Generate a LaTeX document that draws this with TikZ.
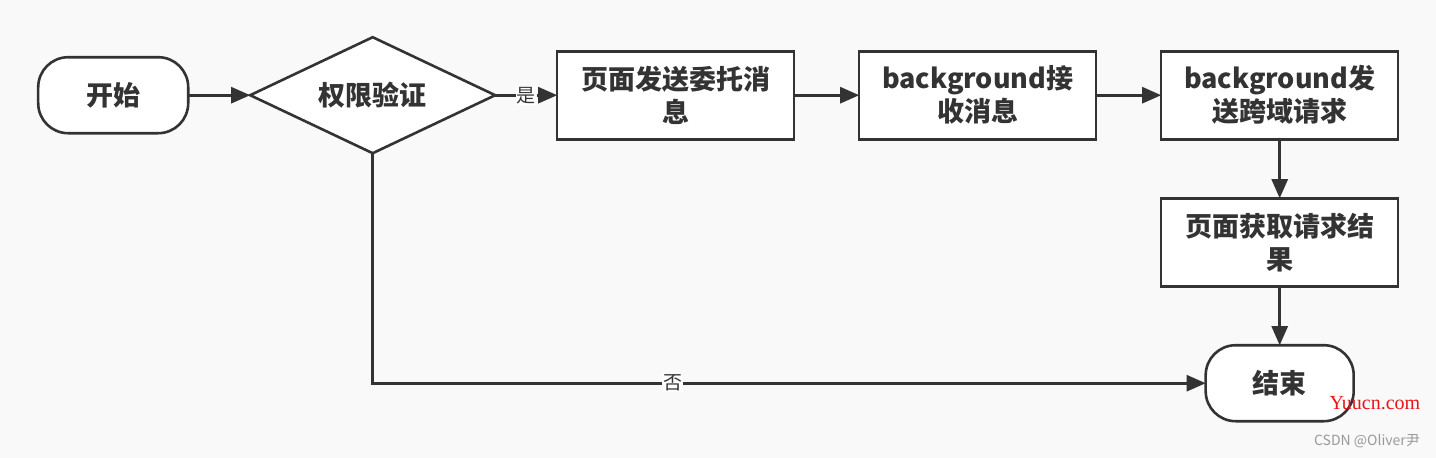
\documentclass[tikz,border=0pt]{standalone}
\usepackage{fontspec}
\setmainfont{Noto Sans CJK SC}
\newfontfamily\wmserif{Liberation Serif}
\usetikzlibrary{arrows.meta,shapes.geometric}
\definecolor{ink}{HTML}{333333}
\definecolor{paper}{HTML}{F9F9F9}

\begin{document}
\begin{tikzpicture}[x=1pt,y=1pt]
\tikzstyle{terminal} = [rectangle, draw=ink, line width=2.6pt, fill=white,
rounded corners=30pt, minimum width=150pt, minimum height=76pt, anchor=center,
inner sep=2pt, outer sep=0pt, text=ink, font=\fontsize{27}{33}\selectfont\bfseries]
\tikzstyle{decision} = [diamond, aspect=2.1, draw=ink, line width=2.6pt, fill=white,
minimum width=245pt, minimum height=116pt, inner sep=2pt, outer sep=0pt, anchor=center,
text=ink, font=\fontsize{27}{33}\selectfont\bfseries]
\tikzstyle{block} = [rectangle, draw=ink, line width=2.6pt, fill=white,
minimum width=237pt, minimum height=88pt, align=center, inner sep=2pt, anchor=center,
outer sep=0pt, text=ink, font=\fontsize{27}{33}\selectfont\bfseries]
\tikzstyle{tag} = [fill=white, inner sep=1pt, text=ink, font=\fontsize{19}{19}\selectfont]
\tikzstyle{link} = [draw=ink, line width=2.6pt, -{Triangle[length=19pt,width=16pt]}]

\path [fill=paper, use as bounding box] (0,0) rectangle (1436,-458);

\matrix [column sep=59.4pt,row sep=42.4pt,anchor=north west,inner sep=0pt] at (36.7,-35.7)
{
% row 1
\node [terminal] (start) {开始}; & \node [decision] (check) {权限验证}; &
\node [block] (send) {页面发送委托消\\息}; &[3pt]
\node [block] (receive) {background接\\收消息}; &[3pt]
\node [block] (request) {background发\\送跨域请求};\\
% row 2
 & & &[3pt] &[3pt] \node [block] (fetch) {页面获取请求结\\果};\\[14pt]
% row 3
 & & &[3pt] &[3pt] \node [terminal, minimum width=148pt] (finish) {结束};\\
};

% watermarks
\node [text={rgb,255:red,232;green,20;blue,26}, font=\wmserif\fontsize{20}{20}\selectfont] (yuucn) at (1375,-403) {Yuucn.com};
\node [text=black!40, font=\fontsize{14}{14}\selectfont] (csdn) at (1367,-441) {CSDN @Oliver尹};

\tikzstyle{every path}=[link]
\path (start) -- (check);
\path (check) -- node [tag, midway] {是} (send);
\path (send) -- (receive);
\path (receive) -- (request);
\path (request) -- (fetch);
\path (fetch) -- (finish);
\path (check.south) |- node [tag, pos=0.68] {否} (finish.west);
\end{tikzpicture}
\end{document}
